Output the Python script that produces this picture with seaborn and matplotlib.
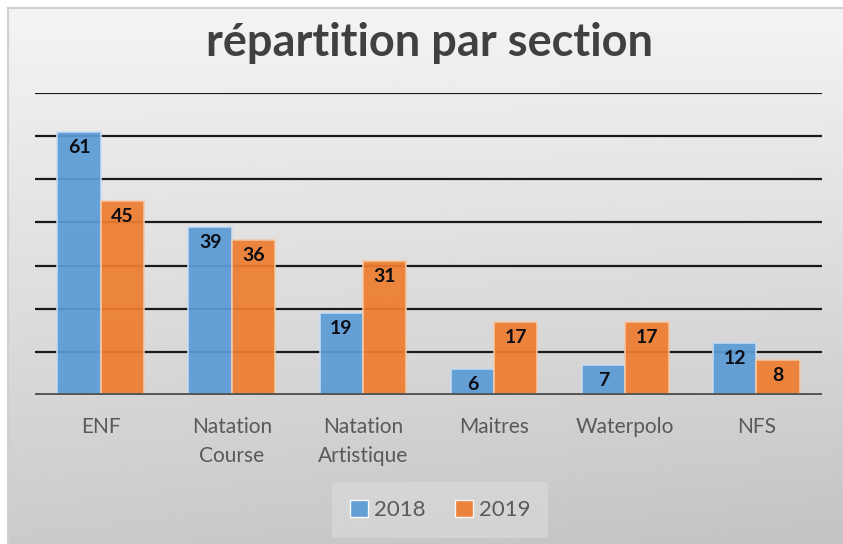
import numpy as np
import pandas as pd
import matplotlib
matplotlib.use("Agg")
import matplotlib.pyplot as plt
import seaborn as sns

categories = ["ENF", "Natation\nCourse", "Natation\nArtistique", "Maitres", "Waterpolo", "NFS"]
values_2018 = [61, 39, 19, 6, 7, 12]
values_2019 = [45, 36, 31, 17, 17, 8]
years = ["2018", "2019"]
colors = ["#5b9bd5", "#ed7d31"]

df = pd.DataFrame({
    "section": categories * 2,
    "year": [years[0]] * len(categories) + [years[1]] * len(categories),
    "value": values_2018 + values_2019,
})

sns.set_theme(style="white")
plt.rcParams["font.family"] = ["Lato", "DejaVu Sans"]

W, H = 843, 544
fig = plt.figure(figsize=(W / 100, H / 100), dpi=100)
fig.patch.set_facecolor("white")

# gradient background
bg = fig.add_axes([8 / W, 0, 1 - 8 / W, 1 - 8 / H], zorder=-10)
yy, xx = np.mgrid[0:1:200j, 0:1:300j]
grad = 0.955 - 0.16 * yy - 0.03 * xx * yy
bg.imshow(grad, cmap="gray", vmin=0, vmax=1, aspect="auto", extent=[0, 1, 0, 1], origin="upper")
bg.set_xticks([]); bg.set_yticks([])
for s in ["right", "bottom"]:
    bg.spines[s].set_visible(False)
for s in ["top", "left"]:
    bg.spines[s].set_color("#cfcfcf")
    bg.spines[s].set_linewidth(1.5)

ax = fig.add_axes([35 / W, 1 - 395 / H, (822 - 35) / W, (395 - 93) / H])
ax.set_facecolor("none")

sns.barplot(data=df, x="section", y="value", hue="year", palette=colors,
            width=0.66, gap=0, ax=ax, saturation=1, alpha=0.93, zorder=3)

edge_cols = ["#c9dcf0", "#f5c9a8"]
for cont, ec in zip(ax.containers, edge_cols):
    for p in cont:
        p.set_edgecolor(ec)
        p.set_linewidth(1.2)
        ax.annotate(f"{int(round(p.get_height()))}",
                    xy=(p.get_x() + p.get_width() / 2, p.get_height()),
                    xytext=(0, -5), textcoords="offset points",
                    ha="center", va="top", fontsize=14, fontweight="bold",
                    color="#0d0d14", zorder=5)

ax.set_ylim(0, 70)
ax.set_xlim(-0.5, len(categories) - 0.5)
ax.set_yticks(np.arange(0, 71, 10))
ax.set_yticklabels([])
ax.yaxis.grid(True, color="#1a1a1a", linewidth=1.6, zorder=0)
ax.set_axisbelow(True)
ax.axhline(0, color="#555555", linewidth=3.5, zorder=4)
for s in ax.spines.values():
    s.set_visible(False)
ax.tick_params(axis="x", length=0, pad=16, labelsize=15, labelcolor="#595959")
ax.tick_params(axis="y", length=0)
for lbl in ax.get_xticklabels():
    lbl.set_linespacing(1.55)
    lbl.set_verticalalignment("top")
ax.set_xlabel("")
ax.set_ylabel("")

leg = ax.legend(loc="center", bbox_to_anchor=(440 / W, 1 - 510 / H),
                bbox_transform=fig.transFigure, ncol=2, frameon=True,
                fontsize=16, handlelength=0.85, handleheight=0.85,
                columnspacing=1.3, handletextpad=0.25, borderpad=0.8)
leg.get_frame().set_facecolor("#dcdcdc")
leg.get_frame().set_edgecolor("none")
leg.get_frame().set_alpha(0.6)
for t in leg.get_texts():
    t.set_color("#595959")

fig.text(430 / W, 1 - 43 / H, "répartition par section", ha="center", va="center",
         fontsize=32.5, fontweight="bold", color="#404040")

fig.savefig("out.png", dpi=100)
